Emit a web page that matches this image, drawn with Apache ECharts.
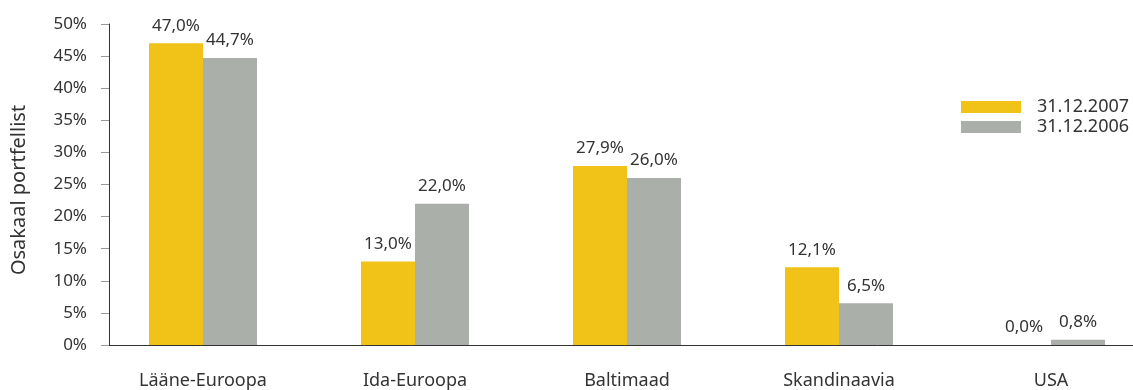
<!DOCTYPE html>
<html>
<head>
<meta charset="utf-8">
<script src="https://cdn.jsdelivr.net/npm/echarts@6/dist/echarts.min.js"></script>
<style>
  html, body { margin: 0; padding: 0; background: #fff; }
  #chart { width: 1133px; height: 390px; }
</style>
</head>
<body>
<div id="chart"></div>
<script>
// Regional split of the equity portfolio, share in %
const regions = ['Lääne-Euroopa', 'Ida-Euroopa', 'Baltimaad', 'Skandinaavia', 'USA'];
const share2007 = [47.0, 13.0, 27.9, 12.1, 0.0];
const share2006 = [44.7, 22.0, 26.0, 6.5, 0.8];
const seriesNames = ['31.12.2007', '31.12.2006'];
const yTicks = [0, 5, 10, 15, 20, 25, 30, 35, 40, 45, 50];

const FONT = 'Noto Sans';
const TEXT = '#333';
const YELLOW = '#F1C318';
const GREY = '#AAB0A9';

const fmtPct = v => v.toFixed(1).replace('.', ',') + '%';

// regions sit at integer positions of a value axis so the first group can start
// a fixed distance from the y axis
const toPoints = arr => arr.map((v, i) => [i, v]);

const chart = echarts.init(document.getElementById('chart'), null, { renderer: 'canvas' });

const barLabel = {
  show: true,
  position: 'top',
  distance: 9,
  color: TEXT,
  fontFamily: FONT,
  fontSize: 17,
  formatter: p => fmtPct(p.value[1])
};

chart.setOption({
  animation: false,
  backgroundColor: '#fff',
  textStyle: { fontFamily: FONT },
  grid: { left: 109, right: 0, top: 24, bottom: 45, containLabel: false },
  legend: {
    orient: 'vertical',
    left: 961,
    top: 98,
    padding: 0,
    itemWidth: 60,
    itemHeight: 12,
    itemGap: 2,
    icon: 'rect',
    data: seriesNames,
    textStyle: { color: TEXT, fontFamily: FONT, fontSize: 18, padding: [0, 0, 0, 11] }
  },
  xAxis: {
    type: 'value',
    min: -0.4434,
    max: 4.3868,
    splitLine: { show: false },
    axisLine: { show: true, onZero: true, lineStyle: { color: '#333', width: 1 } },
    axisTick: { show: false },
    axisLabel: {
      customValues: regions.map((_, i) => i),
      formatter: v => regions[Math.round(v)] || '',
      color: TEXT,
      fontFamily: FONT,
      fontSize: 18,
      margin: 27
    }
  },
  yAxis: {
    type: 'value',
    min: 0,
    max: 50,
    interval: 5,
    name: 'Osakaal portfellist',
    nameLocation: 'middle',
    nameGap: 80,
    nameTextStyle: { color: TEXT, fontFamily: FONT, fontSize: 20, padding: [0, 11, 0, 0] },
    splitLine: { show: false },
    axisLine: { show: true, onZero: false, lineStyle: { color: '#333', width: 1 } },
    axisTick: { show: true, length: 8, lineStyle: { color: '#999' } },
    axisLabel: {
      customValues: yTicks,
      formatter: v => v + '%',
      color: TEXT,
      fontFamily: FONT,
      fontSize: 17,
      margin: 22
    }
  },
  series: [
    {
      name: seriesNames[0],
      type: 'bar',
      data: toPoints(share2007),
      barWidth: 54,
      barGap: '0%',
      itemStyle: { color: YELLOW },
      label: barLabel
    },
    {
      name: seriesNames[1],
      type: 'bar',
      data: toPoints(share2006),
      barWidth: 54,
      barGap: '0%',
      itemStyle: { color: GREY },
      label: barLabel
    }
  ]
});
</script>
</body>
</html>
